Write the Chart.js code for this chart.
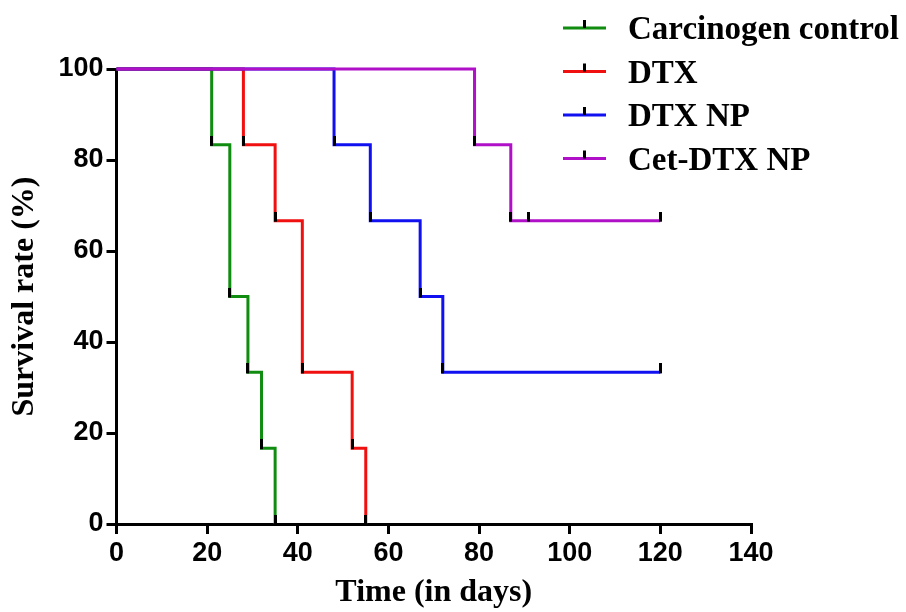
<!DOCTYPE html>
<html><head><meta charset="utf-8">
<script src="https://cdn.jsdelivr.net/npm/chart.js@4.4.1/dist/chart.umd.min.js"></script>
<style>html,body{margin:0;padding:0;background:#fff;}#wrap{width:906px;height:612px;}</style>
</head><body><div id="wrap"><canvas id="c" width="906" height="612"></canvas></div>
<script>
// ---- data ----
const seriesNames = ['Carcinogen control', 'DTX', 'DTX NP', 'Cet-DTX NP'];
const seriesColors = ['#108c10', '#f01010', '#1010f0', '#b010c8'];

const ccDays = [0, 21, 25, 29, 32, 35];
const ccSurvival = [100, 83.33, 50, 33.33, 16.67, 0];

const dtxDays = [0, 28, 35, 41, 52, 55];
const dtxSurvival = [100, 83.33, 66.67, 33.33, 16.67, 0];

const npDays = [0, 48, 56, 67, 72, 120];
const npSurvival = [100, 83.33, 66.67, 50, 33.33, 33.33];

const cetDays = [0, 79, 87, 91, 120];
const cetSurvival = [100, 83.33, 66.67, 66.67, 66.67];

const xTickValues = [0, 20, 40, 60, 80, 100, 120, 140];
const yTickValues = [0, 20, 40, 60, 80, 100];

// ---- helpers ----
const tickImg = document.createElement('canvas');
tickImg.width = 3; tickImg.height = 18;
(function(){ const g = tickImg.getContext('2d'); g.fillStyle = '#000'; g.fillRect(0, 0, 3, 10); })();

function toPoints(xs, ys) { return xs.map((x, i) => ({ x: x, y: ys[i] })); }
function radii(xs) { return xs.map((x, i) => i === 0 ? 0 : 4); }

const allDays = [ccDays, dtxDays, npDays, cetDays];
const allSurv = [ccSurvival, dtxSurvival, npSurvival, cetSurvival];

const datasets = seriesNames.map((name, i) => ({
  label: name,
  data: toPoints(allDays[i], allSurv[i]),
  showLine: true,
  stepped: 'before',
  borderColor: seriesColors[i],
  backgroundColor: seriesColors[i],
  borderWidth: 3,
  pointStyle: tickImg,
  pointRadius: radii(allDays[i]),
  pointHoverRadius: radii(allDays[i]),
  clip: false,
  order: 3 - i
}));

const legendPlugin = {
  id: 'kmLegend',
  afterDraw(chart) {
    const ctx = chart.ctx;
    const rows = [28, 71.5, 115, 158.5];
    ctx.save();
    chart.data.datasets.forEach((ds, i) => {
      const y = rows[i];
      ctx.strokeStyle = ds.borderColor;
      ctx.lineWidth = 3;
      ctx.beginPath(); ctx.moveTo(563, y); ctx.lineTo(606, y); ctx.stroke();
      ctx.fillStyle = '#000';
      ctx.fillRect(583, y - 8, 3, 8);
      ctx.font = 'bold 33px "Liberation Serif", "Times New Roman", serif';
      ctx.textBaseline = 'alphabetic';
      ctx.textAlign = 'left';
      ctx.fillText(ds.label, 628, y + 11);
    });
    ctx.restore();
  }
};

new Chart(document.getElementById('c'), {
  type: 'scatter',
  data: { datasets: datasets },
  plugins: [legendPlugin],
  options: {
    responsive: false,
    animation: false,
    events: [],
    layout: { padding: { left: 0, top: 69, right: 155, bottom: 0 } },
    plugins: { legend: { display: false }, tooltip: { enabled: false } },
    scales: {
      x: {
        type: 'linear', min: 0, max: 140,
        afterBuildTicks: s => { s.ticks = xTickValues.map(v => ({ value: v })); },
        afterFit: s => { s.height = 88; },
        grid: { display: true, drawOnChartArea: false, drawTicks: true, tickLength: 10, color: '#000', lineWidth: 3 },
        border: { display: true, color: '#000', width: 3 },
        ticks: { color: '#000', padding: 3, font: { family: '"Liberation Sans", Arial, sans-serif', size: 27, weight: 'bold' } },
        title: { display: true, text: 'Time (in days)', color: '#000', padding: 0,
                 font: { family: '"Liberation Serif", "Times New Roman", serif', size: 32, weight: 'bold' } }
      },
      y: {
        type: 'linear', min: 0, max: 100,
        afterBuildTicks: s => { s.ticks = yTickValues.map(v => ({ value: v })); },
        afterFit: s => { s.width = 116.5; },
        grid: { display: true, drawOnChartArea: false, drawTicks: true, tickLength: 10, color: '#000', lineWidth: 3 },
        border: { display: true, color: '#000', width: 3 },
        ticks: { color: '#000', padding: 3, font: { family: '"Liberation Sans", Arial, sans-serif', size: 27, weight: 'bold' } },
        title: { display: true, text: 'Survival rate (%)', color: '#000', padding: 6,
                 font: { family: '"Liberation Serif", "Times New Roman", serif', size: 32, weight: 'bold' } }
      }
    }
  }
});
</script>
</body></html>
